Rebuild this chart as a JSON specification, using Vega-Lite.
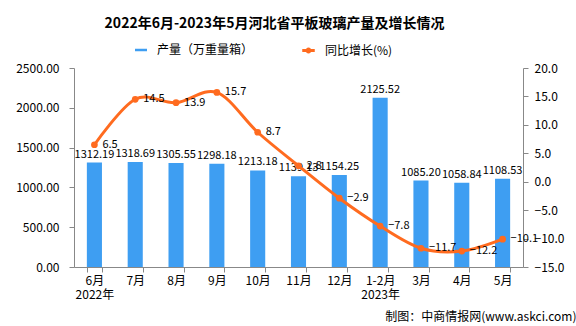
{
  "$schema": "https://vega.github.io/schema/vega-lite/v6.json",
  "width": 449,
  "height": 199,
  "autosize": {"type": "none"},
  "padding": {"left": 74, "top": 68, "right": 53, "bottom": 59},
  "background": "white",
  "config": {
    "font": "Noto Sans CJK SC",
    "view": {"stroke": null},
    "axis": {"grid": false, "labelFont": "Noto Sans CJK SC", "labelColor": "#000", "domainColor": "#888", "tickColor": "#888", "labelFontSize": 12}
  },
  "title": {
    "text": "2022年6月-2023年5月河北省平板玻璃产量及增长情况",
    "fontSize": 14,
    "fontWeight": "bold",
    "color": "#000",
    "anchor": "middle",
    "dx": -24,
    "offset": 13
  },
  "data": {
    "values": [
      {"month": "6月", "prod": 1312.19, "growth": 6.5},
      {"month": "7月", "prod": 1318.69, "growth": 14.5},
      {"month": "8月", "prod": 1305.55, "growth": 13.9},
      {"month": "9月", "prod": 1298.18, "growth": 15.7},
      {"month": "10月", "prod": 1213.18, "growth": 8.7},
      {"month": "11月", "prod": 1139.13, "growth": 2.8},
      {"month": "12月", "prod": 1154.25, "growth": -2.9},
      {"month": "1-2月", "prod": 2125.52, "growth": -7.8},
      {"month": "3月", "prod": 1085.20, "growth": -11.7},
      {"month": "4月", "prod": 1058.84, "growth": -12.2},
      {"month": "5月", "prod": 1108.53, "growth": -10.1}
    ]
  },
  "encoding": {
    "x": {
      "field": "month",
      "type": "nominal",
      "sort": null,
      "scale": {"paddingInner": 0.63, "paddingOuter": 0.315},
      "axis": {
        "title": "制图：中商情报网(www.askci.com)",
        "titleX": 502,
        "titleY": 49,
        "titleAlign": "right",
        "titleAnchor": null,
        "titleBaseline": "middle",
        "titleFontSize": 12,
        "titleFontWeight": "normal",
        "titleColor": "#000",
        "labelAngle": 0,
        "labelExpr": "datum.value == '6月' ? ['6月', '2022年'] : datum.value == '1-2月' ? ['1-2月', '2023年'] : datum.value",
        "tickBand": "extent",
        "tickSize": 5,
        "labelPadding": 3,
        "labelLineHeight": 14,
        "labelBaseline": "top"
      }
    }
  },
  "layer": [
    {
      "encoding": {
        "y": {
          "field": "prod",
          "type": "quantitative",
          "scale": {"domain": [0, 2500], "nice": false},
          "axis": {"title": null, "orient": "left", "values": [0, 500, 1000, 1500, 2000, 2500], "format": ".2f", "tickSize": 5, "labelPadding": 10}
        }
      },
      "layer": [
        {
          "mark": {"type": "bar"},
          "encoding": {
            "fill": {
              "datum": "产量（万重量箱）",
              "scale": {"range": ["#3E9EF2"]},
              "legend": {
                "title": null,
                "orient": "none",
                "legendX": 61,
                "legendY": -24,
                "padding": 0,
                "symbolType": "M-1.2,-0.25H1.2V0.25H-1.2Z",
                "symbolSize": 100,
                "symbolStrokeWidth": 0,
                "labelOffset": 10,
                "labelFontSize": 12,
                "labelColor": "#000"
              }
            }
          }
        },
        {
          "mark": {"type": "text", "dy": -8, "fontSize": 11, "color": "#000"},
          "encoding": {
            "text": {"field": "prod", "type": "quantitative", "format": ".2f"}
          }
        }
      ]
    },
    {
      "encoding": {
        "y": {
          "field": "growth",
          "type": "quantitative",
          "scale": {"domain": [-15, 20], "nice": false},
          "axis": {"title": null, "orient": "right", "values": [-15, -10, -5, 0, 5, 10, 15, 20], "format": ".1f", "tickSize": 5, "labelPadding": 6}
        }
      },
      "layer": [
        {
          "mark": {"type": "line", "interpolate": "cardinal", "strokeWidth": 3},
          "encoding": {
            "stroke": {
              "datum": "同比增长(%)",
              "scale": {"range": ["#FF6B1F"]},
              "legend": {
                "title": null,
                "orient": "none",
                "legendX": 228,
                "legendY": -24,
                "padding": 0,
                "symbolType": "M-1.25,0H1.25M0.3,0A0.3,0.3,0,1,1,-0.3,0A0.3,0.3,0,1,1,0.3,0Z",
                "symbolSize": 100,
                "symbolStrokeWidth": 3,
                "symbolFillColor": "#FF6B1F",
                "labelOffset": 10,
                "labelFontSize": 12,
                "labelColor": "#000"
              }
            }
          }
        },
        {
          "mark": {"type": "point", "filled": true, "size": 45, "color": "#FF6B1F", "opacity": 1}
        },
        {
          "mark": {"type": "text", "align": "left", "dx": 8, "baseline": "middle", "fontSize": 11, "color": "#000"},
          "encoding": {
            "text": {"field": "growth", "type": "quantitative", "format": ".1f"}
          }
        }
      ]
    }
  ],
  "resolve": {"scale": {"y": "independent"}}
}
